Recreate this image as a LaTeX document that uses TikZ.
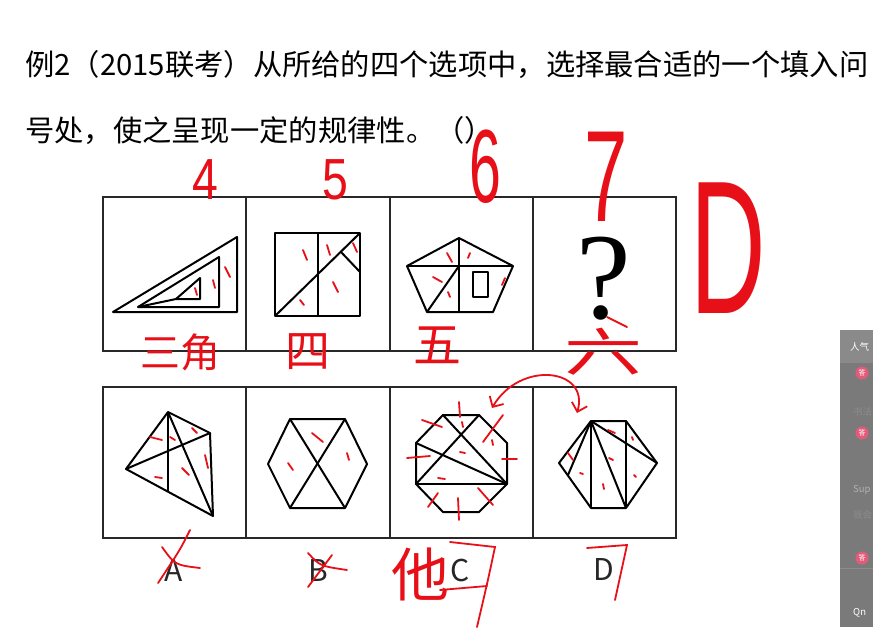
\documentclass[tikz,border=0pt]{standalone}
\usepackage{fontspec}
\setmainfont{Noto Sans CJK SC}
\newfontfamily\handcjk{Noto Sans CJK SC}
\newfontfamily\handnum{Liberation Sans}
\newfontfamily\qfont{Liberation Serif}
\usetikzlibrary{arrows.meta,positioning,calc}
\definecolor{boxline}{RGB}{40,40,40}
\definecolor{hand}{RGB}{232,16,24}
\definecolor{panel}{RGB}{122,122,122}
\definecolor{panelhead}{RGB}{138,138,138}
\definecolor{badge}{RGB}{226,92,122}
\tikzset{
  cellbox/.style={draw=boxline, line width=2.2pt, minimum width=143.5pt, minimum height=154pt, inner sep=0pt},
  figline/.style={draw=black, line width=2pt, line join=round},
  handnote/.style={text=hand, inner sep=0pt},
  handmark/.style={draw=hand, line width=1.8pt, line cap=round},
  optlabel/.style={font=\fontsize{30}{30}\selectfont, text=black!85, inner sep=0pt},
  paneltext/.style={anchor=west, inner sep=0pt, font=\fontsize{9.5}{9.5}\selectfont},
}

\begin{document}
\begin{tikzpicture}[x=1pt, y=-1pt]
  \useasboundingbox[fill=white] (0,0) rectangle (873,627);

  % question text
  \node[anchor=west, inner sep=0pt, font=\fontsize{29.3}{29.3}\selectfont] (ttl1) at (25,65) {例2（2015联考）从所给的四个选项中，选择最合适的一个填入问};
  \node[anchor=west, inner sep=0pt, font=\fontsize{29.3}{29.3}\selectfont] (ttl2) at (25,131) {号处，使之呈现一定的规律性。（）};

  % cells
  \foreach \i/\x in {1/174.5,2/318,3/461.5,4/604.5}{
    \node[cellbox] (top\i) at (\x,274) {};
    \node[cellbox, minimum height=151pt] (bot\i) at (\x,462.5) {};
  }

  % row 1
  \draw[figline] (113,312) -- (237,237) -- (237,312) -- cycle;
  \draw[figline] (138,307) -- (219,257) -- (219,307) -- cycle;
  \draw[figline] (138,307) -- (176,299) -- (200,278) -- (200,299) -- (176,299);

  \draw[figline] (275,233) rectangle (360,316);
  \draw[figline] (318,233) -- (318,316);
  \draw[figline] (275,316) -- (360,233);
  \draw[figline] (341,252) -- (360,272);

  \draw[figline] (459,238) -- (513,266) -- (493,312) -- (427,312) -- (407,266) -- cycle;
  \draw[figline] (407,266) -- (513,266);
  \draw[figline] (459,238) -- (459,312);
  \draw[figline] (427,312) -- (459,266);
  \draw[figline] (473,272) rectangle (488,297);

  \node[font=\qfont\fontsize{123}{123}\selectfont, inner sep=0pt] (qmark) at (604,279) {?};

  % row 2
  \draw[figline] (168,412) -- (210,433) -- (213,516) -- (126,469) -- cycle;
  \draw[figline] (126,469) -- (210,433);
  \draw[figline] (168,412) -- (213,516);
  \draw[figline] (168,412) -- (168,492);

  \draw[figline] (290,419) -- (345,419) -- (367,464) -- (345,508) -- (290,508) -- (268,464) -- cycle;
  \draw[figline] (290,419) -- (345,508);
  \draw[figline] (345,419) -- (290,508);

  \draw[figline] (443,415) -- (479,415) -- (507,443) -- (507,484) -- (479,512) -- (443,512) -- (416,484) -- (416,443) -- cycle;
  \draw[figline] (416,484) -- (507,484);
  \draw[figline] (416,443) -- (507,484);
  \draw[figline] (443,415) -- (507,484);
  \draw[figline] (479,415) -- (416,484);

  \draw[figline] (591,421) -- (626,421) -- (657,463) -- (626,508) -- (591,508) -- (559,463) -- cycle;
  \draw[figline] (591,421) -- (568,475);
  \draw[figline] (591,421) -- (591,508);
  \draw[figline] (591,421) -- (626,508);
  \draw[figline] (591,421) -- (657,463);
  \draw[figline] (626,421) -- (626,508);

  \node[optlabel] (labA) at (174,570) {A};
  \node[optlabel] (labB) at (318,570) {B};
  \node[optlabel] (labC) at (460,570) {C};
  \node[optlabel] (labD) at (604,569) {D};

  % side panel
  \begin{scope}
    \clip (840,330) rectangle (873,627);
    \fill[panel] (840,330) rectangle (873,627);
    \fill[panelhead] (840,330) rectangle (873,363);
    \node[paneltext, text=white] (pnl0) at (850,347) {人气};
    \foreach \y in {373,433,558}{
      \fill[badge] (862,\y) circle (6.5pt);
      \node[text=white, font=\fontsize{7}{7}\selectfont, inner sep=0pt] at (862,\y) {答};
    }
    \node[paneltext, text=black!45] (pnl1) at (853,412) {书法};
    \node[paneltext, text=black!30] (pnl2) at (853,490) {Sup};
    \node[paneltext, text=black!45] (pnl3) at (853,515) {我会};
    \draw[black!45, line width=0.8pt] (840,568) -- (873,568);
    \node[paneltext, text=white] (pnl4) at (853,613) {Qn};
  \end{scope}

  % red notes
  \node[handnote, font=\handnum\fontsize{58}{58}\selectfont] (n4) at (205,180) {\scalebox{0.8}[1]{4}};
  \node[handnote, font=\handnum\fontsize{58}{58}\selectfont] (n5) at (335,180) {\scalebox{0.8}[1]{5}};
  \node[handnote, font=\handnum\fontsize{104}{104}\selectfont] (n6) at (485,167) {\scalebox{0.55}[1]{6}};
  \node[handnote, font=\handnum\fontsize{130}{130}\selectfont] (n7) at (606,177) {\scalebox{0.6}[1]{7}};
  \node[handnote, font=\handnum\fontsize{190}{190}\selectfont] (ansD) at (728,248) {\scalebox{0.55}[1]{D}};

  \node[handnote, font=\handcjk\fontsize{40}{40}\selectfont] (w3) at (180,352) {三角};
  \node[handnote, font=\handcjk\fontsize{45}{45}\selectfont] (w4) at (308,352) {四};
  \node[handnote, font=\handcjk\fontsize{48}{48}\selectfont] (w5) at (437,345) {五};
  \node[handnote, font=\handcjk\fontsize{52}{52}\selectfont] (w6) at (603,352) {\scalebox{1.5}[1]{六}};
  \node[handnote, font=\handcjk\fontsize{58}{58}\selectfont] (wC) at (420,574) {他};

  \draw[handmark, {Straight Barb[length=8pt]}-{Straight Barb[length=8pt]}] (577,413) .. controls (590,368) and (520,360) .. (492,408);

  % option crosses
  \draw[handmark] (190,530) .. controls (180,550) .. (158,583);
  \draw[handmark] (162,547) .. controls (175,565) .. (200,568);
  \draw[handmark] (308,553) .. controls (320,566) .. (347,570);
  \draw[handmark] (332,555) -- (308,587);
  \draw[handmark] (450,542) -- (495,547) .. controls (488,580) .. (477,627);
  \draw[handmark] (440,590) -- (487,586);
  \draw[handmark] (587,548) -- (627,545) -- (615,600);

  % counting ticks
  \foreach \xa/\ya/\xb/\yb in {
    225/267/230/277, 213/280/215/288, 195/288/197/295,
    303/250/307/260, 327/245/330/255, 353/243/357/252, 333/282/338/292, 300/300/304/305,
    447/253/452/262, 470/253/468/258, 433/277/442/282, 448/292/450/297, 505/278/502/285,
    607/317/627/327,
    150/437/162/440, 170/437/175/440, 192/428/197/433, 205/455/208/468, 182/468/189/475, 155/477/162/478,
    312/433/323/442, 347/453/349/460, 288/463/293/470,
    459/402/460/417, 462/422/463/427, 422/420/442/427, 407/458/430/456, 460/452/465/453,
    483/442/503/415, 492/440/493/445, 502/459/517/459, 438/478/445/479, 428/507/438/493,
    458/498/459/520, 478/488/493/505,
    568/453/573/460, 580/473/583/474, 608/430/615/433, 632/437/633/440, 609/458/613/460,
    603/484/604/489, 634/475/636/477}
    {\draw[handmark] (\xa,\ya) -- (\xb,\yb);}
\end{tikzpicture}
\end{document}
